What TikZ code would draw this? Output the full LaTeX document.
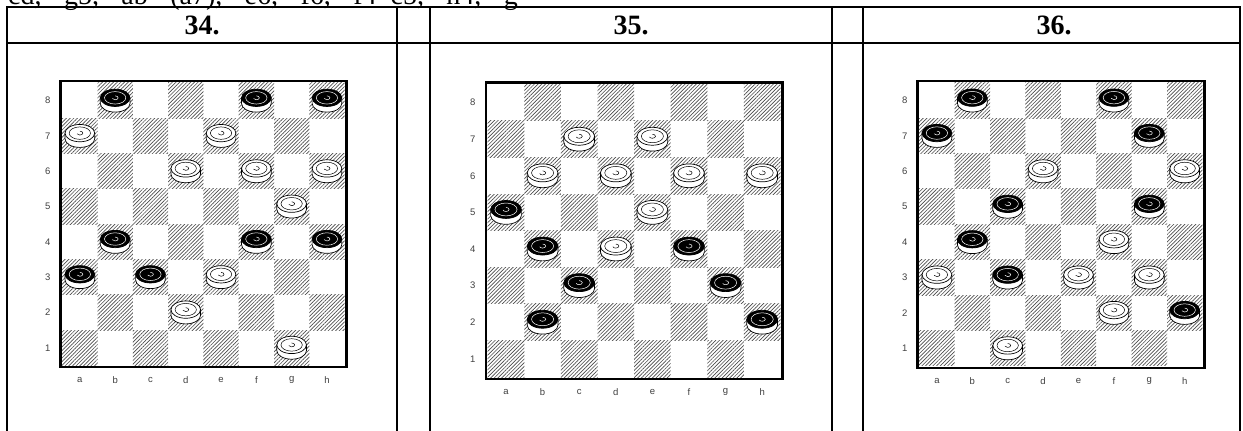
\documentclass[tikz,border=0pt]{standalone}
\usepackage{fontspec}
\setmainfont{Liberation Serif}
\newfontfamily\lblfont{Liberation Sans}
\usetikzlibrary{patterns.meta}
\tikzset{
  tline/.style={line width=2pt, black},
  header/.style={font=\fontsize{28}{30}\selectfont\bfseries, anchor=base, inner sep=0pt},
  darksq/.style={pattern={Lines[angle=45,distance=2.6pt,line width=0.65pt]}, pattern color=black!70},
  boardframe/.style={line width=2.4pt},
  rlabel/.style={font=\lblfont\fontsize{9.5}{10}\selectfont, text=black!75, inner sep=0pt},
  pcside/.style={fill=white, draw=black, line width=0.7pt},
}
\newcommand{\drawboard}[4]{%
  \def\bx{#1}\def\by{#2}\def\bs{#3}%
  \foreach \f in {1,...,8}{\foreach \r in {1,...,8}{%
    \pgfmathtruncatemacro{\sqpar}{mod(\f+\r,2)}%
    \ifnum\sqpar=0 \path[darksq] (\bx+\f*\bs-\bs,\by+\r*\bs-\bs) rectangle ++(\bs,\bs);\fi
  }}%
  \draw[boardframe] (\bx-1.9,\by-1.9) rectangle (\bx+8*\bs+1.9,\by+8*\bs+1.9);
  \foreach \r in {1,...,8}{\node[rlabel] (#4-r\r) at (\bx-0.41*\bs,\by+\r*\bs-0.5*\bs) {\r};}
  \foreach \l [count=\i] in {a,b,c,d,e,f,g,h}{\node[rlabel] (#4-f\l) at (\bx+\i*\bs-0.5*\bs,\by-15) {\l};}
}
\newcommand{\pc}[4]{%
  \pgfmathsetmacro{\cx}{\bx+(#1-0.5)*\bs}%
  \pgfmathsetmacro{\cy}{\by+(#2-0.42)*\bs}%
  \pgfmathsetmacro{\rx}{0.42*\bs}%
  \pgfmathsetmacro{\ry}{0.245*\bs}%
  \pgfmathsetmacro{\rxi}{0.72*\rx}%
  \pgfmathsetmacro{\ryi}{0.72*\ry}%
  \pgfmathsetmacro{\th}{0.16*\bs}%
  \pgfmathsetmacro{\mrx}{0.085*\bs}%
  \pgfmathsetmacro{\mry}{0.055*\bs}%
  \path[pcside] (\cx-\rx,\cy) -- (\cx-\rx,\cy-\th) arc[start angle=180,end angle=360,x radius=\rx pt,y radius=\ry pt] -- (\cx+\rx,\cy) -- cycle;
  \filldraw[fill=#3,draw=black,line width=0.7pt] (\cx,\cy) ellipse [x radius=\rx pt,y radius=\ry pt];
  \draw[#4,line width=0.5pt] (\cx,\cy) ellipse [x radius=\rxi pt,y radius=\ryi pt];
  \draw[#4,line width=0.5pt] (\cx,\cy+\mry) arc[start angle=90,end angle=-160,x radius=\mrx pt,y radius=\mry pt];
}
\newcommand{\wpc}[2]{\pc{#1}{#2}{white}{black}}
\newcommand{\bpc}[2]{\pc{#1}{#2}{black}{white}}
\begin{document}
\begin{tikzpicture}[x=1pt,y=1pt]
\useasboundingbox (0,0) rectangle (1243,431);
\fill[white] (0,0) rectangle (1243,431);
% text cut at top
\node[anchor=base west, font=\fontsize{28}{30}\selectfont, inner sep=0pt] (toptext) at (8,426) {\spaceskip=0.8em cd, g5, ab (a7), e6, f6, f4--c5, h4, g};
% table
\draw[tline] (6,423.5) -- (1241,423.5);
\draw[tline] (6,388) -- (1241,388);
\foreach \xx in {7,397,430,832,863,1240}{\draw[tline] (\xx,424.5) -- (\xx,-2);}
\node[header] (h34) at (202,396) {34.};
\node[header] (h35) at (631,396) {35.};
\node[header] (h36) at (1054,396) {36.};
% board 34
\drawboard{62.2}{65.6}{35.3}{b34}
\bpc{2}{8}\bpc{6}{8}\bpc{8}{8}
\wpc{1}{7}\wpc{5}{7}
\wpc{4}{6}\wpc{6}{6}\wpc{8}{6}
\wpc{7}{5}
\bpc{2}{4}\bpc{6}{4}\bpc{8}{4}
\bpc{1}{3}\bpc{3}{3}\wpc{5}{3}
\wpc{4}{2}
\wpc{7}{1}
% board 35
\drawboard{487.7}{53.9}{36.6}{b35}
\wpc{3}{7}\wpc{5}{7}
\wpc{2}{6}\wpc{4}{6}\wpc{6}{6}\wpc{8}{6}
\bpc{1}{5}\wpc{5}{5}
\bpc{2}{4}\wpc{4}{4}\bpc{6}{4}
\bpc{3}{3}\bpc{7}{3}
\bpc{2}{2}\bpc{8}{2}
% board 36
\drawboard{919.2}{65}{35.4}{b36}
\bpc{2}{8}\bpc{6}{8}
\bpc{1}{7}\bpc{7}{7}
\wpc{4}{6}\wpc{8}{6}
\bpc{3}{5}\bpc{7}{5}
\bpc{2}{4}\wpc{6}{4}
\wpc{1}{3}\bpc{3}{3}\wpc{5}{3}\wpc{7}{3}
\wpc{6}{2}\bpc{8}{2}
\wpc{3}{1}
\end{tikzpicture}
\end{document}
